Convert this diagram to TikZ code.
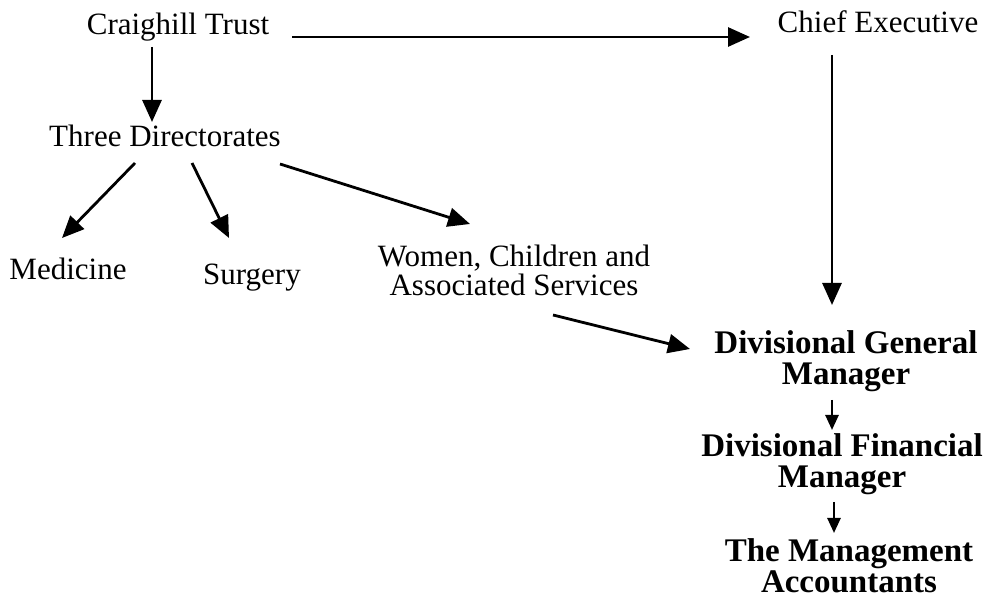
\documentclass[tikz,border=0pt]{standalone}
\usepackage{fontspec}
\setmainfont{Liberation Serif}
\usetikzlibrary{arrows.meta,calc}
\tikzset{
  lbl/.style={inner sep=0pt, anchor=base, font=\fontsize{31}{29}\selectfont, align=center},
  blbl/.style={inner sep=0pt, anchor=base, font=\fontsize{33}{31}\selectfont\bfseries, align=center},
  arr/.style={line width=2.8pt, -{Triangle[length=22pt,width=19pt]}},
  sarr/.style={line width=2.6pt, -{Triangle[length=15pt,width=13pt]}}
}
\begin{document}
\begin{tikzpicture}[x=1pt,y=-1pt]
\useasboundingbox[fill=white] (0,0) rectangle (989,601);
% base anchor = baseline of the last line
\node[lbl] (ct) at (178,35) {Craighill Trust};
\node[lbl] (ce) at (878,33) {Chief Executive};
\node[lbl] (td) at (165,147) {Three Directorates};
\node[lbl] (med) at (68,280) {Medicine};
\node[lbl] (sur) at (252,285) {Surgery};
\node[lbl] (wcs) at (514,296) {Women, Children and\\Associated Services};
\node[blbl] (dgm) at (846,385) {Divisional General\\Manager};
\node[blbl] (dfm) at (842,488) {Divisional Financial\\Manager};
\node[blbl] (tma) at (849,593) {The Management\\Accountants};
\draw[arr] ($(ct.base)+(-26,12)$) -- ($(td.base)+(-13,-25)$);
\draw[arr] ($(ct.base)+(114,2)$) -- ($(ce.base)+(-128,4)$);
\draw[arr] ($(ce.base)+(-46,22)$) -- ($(dgm.base)+(-14,-80)$);
\draw[arr] ($(td.base)+(-30,16)$) -- ($(med.base)+(-6,-42)$);
\draw[arr] ($(td.base)+(27,16)$) -- ($(sur.base)+(-23,-47)$);
\draw[arr] ($(td.base)+(115,17)$) -- ($(wcs.base)+(-44,-72)$);
\draw[arr] ($(wcs.base)+(39,19)$) -- ($(dgm.base)+(-156,-36)$);
\draw[sarr] ($(dgm.base)+(-14,15)$) -- ($(dfm.base)+(-10,-58)$);
\draw[sarr] ($(dfm.base)+(-8,14)$) -- ($(tma.base)+(-15,-60)$);
\end{tikzpicture}
\end{document}
